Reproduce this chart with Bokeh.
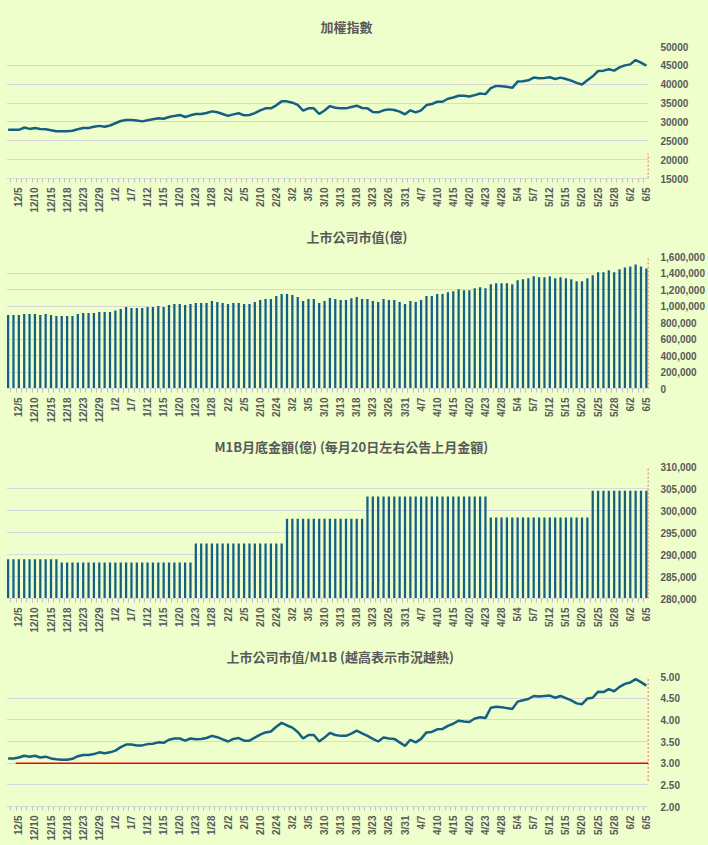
import math
from bokeh.plotting import figure
from bokeh.models import FixedTicker, Range1d, NumeralTickFormatter
from bokeh.layouts import column
from bokeh.embed import file_html
from bokeh.resources import INLINE
from jinja2 import Template

# ---------------- data ----------------
tick_labels = ["12/5", "12/10", "12/15", "12/18", "12/23", "12/29", "1/2", "1/7", "1/12", "1/15",
               "1/20", "1/23", "1/28", "2/2", "2/5", "2/10", "2/24", "3/2", "3/5", "3/10",
               "3/13", "3/18", "3/23", "3/26", "3/31", "4/7", "4/10", "4/15", "4/20", "4/23",
               "4/28", "5/4", "5/7", "5/12", "5/15", "5/20", "5/25", "5/28", "6/2", "6/5"]
first_label_index = 2
label_step = 3

taiex = [27900, 27900, 27900, 28500, 28150, 28400, 28150, 28050, 27800, 27550,
         27550, 27550, 27650, 28050, 28400, 28400, 28700, 28950, 28700, 29050,
         29650, 30250, 30500, 30500, 30350, 30150, 30450, 30700, 30950, 30850,
         31300, 31600, 31850, 31300, 31750, 32100, 32100, 32350, 32800, 32550,
         32100, 31600, 32000, 32300, 31750, 31850, 32350, 33050, 33600, 33600,
         34400, 35450, 35450, 35100, 34500, 33000, 33600, 33600, 32100, 33050,
         34200, 33750, 33600, 33600, 33950, 34300, 33700, 33600, 32630, 32540,
         33070, 33330, 33160, 32720, 32020, 33070, 32540, 33070, 34470, 34740,
         35350, 35350, 36140, 36490, 36930, 36930, 36750, 37100, 37540, 37370,
         38950, 39560, 39470, 39300, 39040, 40700, 40790, 41050, 41750, 41580,
         41670, 41840, 41400, 41750, 41400, 40960, 40350, 39910, 41050, 42100,
         43500, 43600, 43950, 43600, 44470, 45000, 45260, 46400, 45700, 44910]

market_cap = [892000, 892000, 892000, 904000, 904000, 904000, 892000, 904000, 892000, 880000,
              880000, 880000, 880000, 904000, 916000, 916000, 916000, 928000, 928000, 928000,
              944000, 964000, 988000, 976000, 976000, 976000, 988000, 988000, 1000000, 988000,
              1012000, 1024000, 1024000, 1012000, 1024000, 1036000, 1036000, 1036000, 1060000, 1048000,
              1036000, 1024000, 1036000, 1036000, 1024000, 1024000, 1048000, 1072000, 1084000, 1084000,
              1120000, 1144000, 1144000, 1132000, 1108000, 1060000, 1084000, 1084000, 1036000, 1060000,
              1096000, 1084000, 1072000, 1072000, 1094000, 1108000, 1084000, 1084000, 1060000, 1048000,
              1084000, 1072000, 1072000, 1048000, 1024000, 1060000, 1048000, 1072000, 1120000, 1120000,
              1144000, 1144000, 1168000, 1180000, 1204000, 1192000, 1192000, 1216000, 1228000, 1216000,
              1264000, 1276000, 1276000, 1276000, 1264000, 1312000, 1324000, 1336000, 1360000, 1348000,
              1348000, 1360000, 1336000, 1348000, 1336000, 1324000, 1300000, 1300000, 1336000, 1372000,
              1408000, 1408000, 1432000, 1408000, 1444000, 1468000, 1480000, 1504000, 1480000, 1456000]

m1b = [288900, 288900, 288900, 288900, 288900, 288900, 288900, 288900, 288900, 288900,
       288200, 288200, 288200, 288200, 288200, 288200, 288200, 288200, 288200, 288200,
       288200, 288200, 288200, 288200, 288200, 288200, 288200, 288200, 288200, 288200,
       288200, 288200, 288200, 288200, 288200, 292500, 292500, 292500, 292500, 292500,
       292500, 292500, 292500, 292500, 292500, 292500, 292500, 292500, 292500, 292500,
       292500, 292500, 298100, 298100, 298100, 298100, 298100, 298100, 298100, 298100,
       298100, 298100, 298100, 298100, 298100, 298100, 298100, 303200, 303200, 303200,
       303200, 303200, 303200, 303200, 303200, 303200, 303200, 303200, 303200, 303200,
       303200, 303200, 303200, 303200, 303200, 303200, 303200, 303200, 303200, 303200,
       298400, 298400, 298400, 298400, 298400, 298400, 298400, 298400, 298400, 298400,
       298400, 298400, 298400, 298400, 298400, 298400, 298400, 298400, 298400, 304500,
       304500, 304500, 304500, 304500, 304500, 304500, 304500, 304500, 304500, 304500]

cap_m1b_ratio = [3.11, 3.11, 3.13, 3.17, 3.15, 3.17, 3.13, 3.15, 3.11, 3.09,
                 3.08, 3.08, 3.10, 3.16, 3.19, 3.19, 3.21, 3.25, 3.23, 3.25,
                 3.29, 3.37, 3.43, 3.43, 3.41, 3.41, 3.44, 3.45, 3.48, 3.47,
                 3.54, 3.57, 3.57, 3.52, 3.57, 3.55, 3.56, 3.58, 3.63, 3.60,
                 3.55, 3.50, 3.56, 3.58, 3.52, 3.52, 3.59, 3.66, 3.71, 3.73,
                 3.84, 3.93, 3.87, 3.82, 3.72, 3.57, 3.65, 3.65, 3.50, 3.59,
                 3.70, 3.65, 3.63, 3.63, 3.68, 3.75, 3.69, 3.63, 3.56, 3.50,
                 3.59, 3.57, 3.56, 3.48, 3.40, 3.54, 3.48, 3.56, 3.71, 3.72,
                 3.78, 3.79, 3.86, 3.91, 3.98, 3.96, 3.95, 4.03, 4.06, 4.04,
                 4.28, 4.30, 4.29, 4.27, 4.25, 4.42, 4.45, 4.48, 4.55, 4.54,
                 4.55, 4.56, 4.51, 4.55, 4.50, 4.45, 4.38, 4.36, 4.49, 4.51,
                 4.65, 4.64, 4.71, 4.66, 4.76, 4.83, 4.86, 4.94, 4.87, 4.79]

threshold = 3.0

titles = ["加權指數", "上市公司市值(億)",
          "M1B月底金額(億) (每月20日左右公告上月金額)",
          "上市公司市值/M1B (越高表示市況越熱)"]

# ---------------- style ----------------
BG = "#EEFFCC"
BLUE = "#156082"
TXT = "#595959"
GRID = "#D9D9D9"
FONT = "Liberation Sans"
CJK = "Noto Sans CJK TC"

x = list(range(len(taiex)))
x_lo, x_hi = -0.3, 119.4
tick_pos = [first_label_index + label_step * k for k in range(len(tick_labels))]
overrides = {p: lab for p, lab in zip(tick_pos, tick_labels)}
minor = [i - 0.5 for i in range(len(x) + 1)]


def make_fig(title, title_offset, height, top, bottom, y0, y1, yticks, fmt):
    p = figure(width=708, height=height, output_backend="svg", toolbar_location=None,
               x_range=Range1d(x_lo, x_hi), y_range=Range1d(y0, y1),
               y_axis_location="right",
               min_border_left=6, min_border_right=60, min_border_top=top,
               min_border_bottom=bottom,
               background_fill_color=BG, border_fill_color=BG,
               outline_line_color=None)
    p.title.text = title
    p.title.text_font = CJK
    p.title.text_font_size = "13px"
    p.title.text_font_style = "bold"
    p.title.text_color = TXT
    p.title.align = "left"
    p.title.vertical_align = "middle"
    p.title.offset = title_offset
    p.title.standoff = 20

    xa = p.xaxis[0]
    xa.ticker = FixedTicker(ticks=tick_pos, minor_ticks=minor)
    xa.major_label_overrides = overrides
    xa.major_label_orientation = math.pi / 2
    xa.major_tick_line_color = None
    xa.major_tick_out = 0
    xa.major_tick_in = 0
    xa.minor_tick_line_color = "#BFBFBF"
    xa.minor_tick_out = 4
    xa.minor_tick_in = 0
    xa.axis_line_color = GRID
    xa.major_label_standoff = 5
    xa.major_label_text_font = FONT
    xa.major_label_text_font_style = "bold"
    xa.major_label_text_font_size = "10px"
    xa.major_label_text_color = TXT

    ya = p.yaxis[0]
    ya.ticker = FixedTicker(ticks=yticks)
    ya.formatter = NumeralTickFormatter(format=fmt)
    ya.axis_line_color = None
    ya.major_tick_line_color = None
    ya.minor_tick_line_color = None
    ya.major_tick_out = 0
    ya.major_label_standoff = 12
    ya.major_label_text_font = FONT
    ya.major_label_text_font_style = "bold"
    ya.major_label_text_font_size = "10px"
    ya.major_label_text_color = TXT

    p.xgrid.grid_line_color = None
    p.ygrid.grid_line_color = GRID
    p.ygrid.grid_line_width = 1
    return p


DOT_X = 119.36

# Panel 1: index
f1 = make_fig(titles[0], 314, 215, 46, 35, 15000, 50000, list(range(15000, 50001, 5000)), "0")
f1.line(x, taiex, line_color=BLUE, line_width=2.5)
f1.segment(x0=DOT_X, y0=15000, x1=DOT_X, y1=21600, line_color="#FF0000",
           line_dash="2 2", line_width=1)

# Panel 2: market cap
f2 = make_fig(titles[1], 300, 210, 41, 36, 0, 1600000, list(range(0, 1600001, 200000)), "0,0")
f2.vbar(x=x, top=market_cap, bottom=0, width=0.42, fill_color=BLUE, line_color=None)
f2.segment(x0=DOT_X, y0=0, x1=DOT_X, y1=1600000, line_color="#FF0000",
           line_dash="2 2", line_width=1)

# Panel 3: M1B
f3 = make_fig(titles[2], 208, 210, 41, 36, 280000, 310000, list(range(280000, 310001, 5000)), "0,0")
f3.vbar(x=x, top=m1b, bottom=280000, width=0.42, fill_color=BLUE, line_color=None)
f3.segment(x0=DOT_X, y0=280000, x1=DOT_X, y1=310000, line_color="#FF0000",
           line_dash="2 2", line_width=1)

# Panel 4: ratio
f4 = make_fig(titles[3], 220, 208, 41, 34, 2.0, 5.0, [2.0, 2.5, 3.0, 3.5, 4.0, 4.5, 5.0], "0.00")
f4.segment(x0=1.4, y0=threshold, x1=x_hi, y1=threshold, line_color="#FF0000", line_width=1.5)
f4.line(x, cap_m1b_ratio, line_color=BLUE, line_width=2.5)
f4.segment(x0=DOT_X, y0=2.59, x1=DOT_X, y1=5.0, line_color="#FF0000",
           line_dash="2 2", line_width=1)

layout = column(f1, f2, f3, f4, spacing=0)

template = Template("""{% extends base %}
{% block preamble %}<style>html, body { background-color: #EEFFCC; }</style>{% endblock %}""")

html = file_html(layout, INLINE, "chart", template=template)
open("out.html", "w").write(html)
